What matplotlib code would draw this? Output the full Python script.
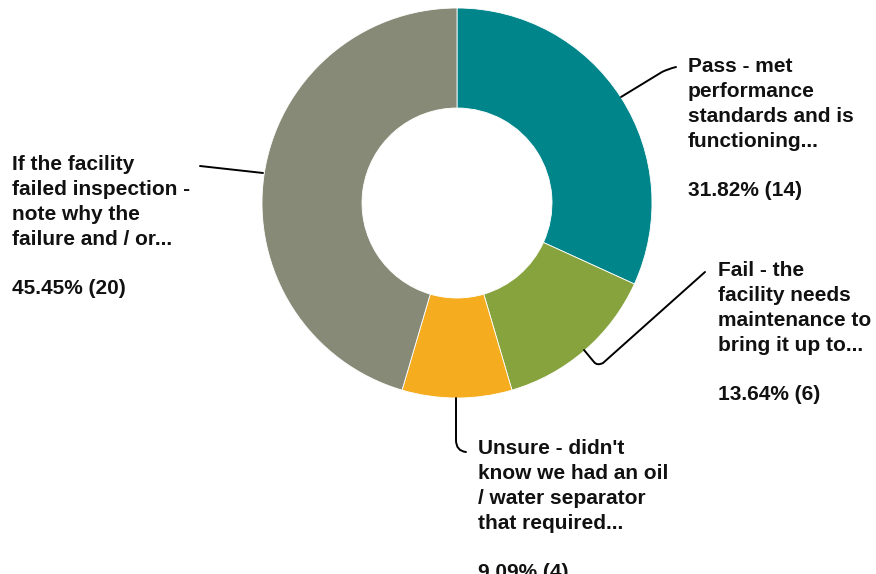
import matplotlib
matplotlib.use("Agg")
import matplotlib.pyplot as plt
from matplotlib.path import Path
from matplotlib.patches import PathPatch

labels = [
    "Pass - met\nperformance\nstandards and is\nfunctioning...",
    "Fail - the\nfacility needs\nmaintenance to\nbring it up to...",
    "Unsure - didn't\nknow we had an oil\n/ water separator\nthat required...",
    "If the facility\nfailed inspection -\nnote why the\nfailure and / or...",
]
counts = [14, 6, 4, 20]
percents = [31.82, 13.64, 9.09, 45.45]
colors = ["#00858a", "#86a33e", "#f5ad1f", "#888a78"]

W, H = 876, 574
fig = plt.figure(figsize=(W / 100, H / 100), dpi=100)
ax = fig.add_axes([0, 0, 1, 1])

# y axis is flipped (pixel coords), so counterclock in data runs clockwise on screen
cx, cy, r_out, r_in = 457, 203, 195, 95
ax.pie(counts, colors=colors, startangle=270, counterclock=True,
       center=(cx, cy), radius=r_out, frame=True,
       wedgeprops=dict(width=r_out - r_in, edgecolor="white", linewidth=0.6))
ax.set_xlim(0, W)
ax.set_ylim(H, 0)
ax.axis("off")

# text blocks: (left x, top y of first line)
text_pos = [(688, 57), (718, 261), (478, 439), (12, 155)]
for lab, pct, n, (tx, ty) in zip(labels, percents, counts, text_pos):
    ax.text(tx, ty, f"{lab}\n\n{pct:.2f}% ({n})", ha="left", va="top",
            fontsize=15, fontweight="bold", family="Liberation Sans",
            linespacing=1.39, color="#111111")

# leader lines (pixel coordinates, Bezier corners)
def leader(verts, codes):
    ax.add_patch(PathPatch(Path(verts, codes), fill=False, lw=1.4,
                           edgecolor="black", capstyle="round"))

M, L, C = Path.MOVETO, Path.LINETO, Path.CURVE3
leader([(621, 97), (662, 72), (668, 69), (676, 67)], [M, L, C, C])
leader([(584, 350), (594, 362), (597, 366), (603, 363), (705, 272)], [M, L, C, C, L])
leader([(456, 398), (456, 440), (456, 451), (466, 452)], [M, L, C, C])
leader([(200, 166), (263, 173)], [M, L])

fig.savefig("out.png", dpi=100)
